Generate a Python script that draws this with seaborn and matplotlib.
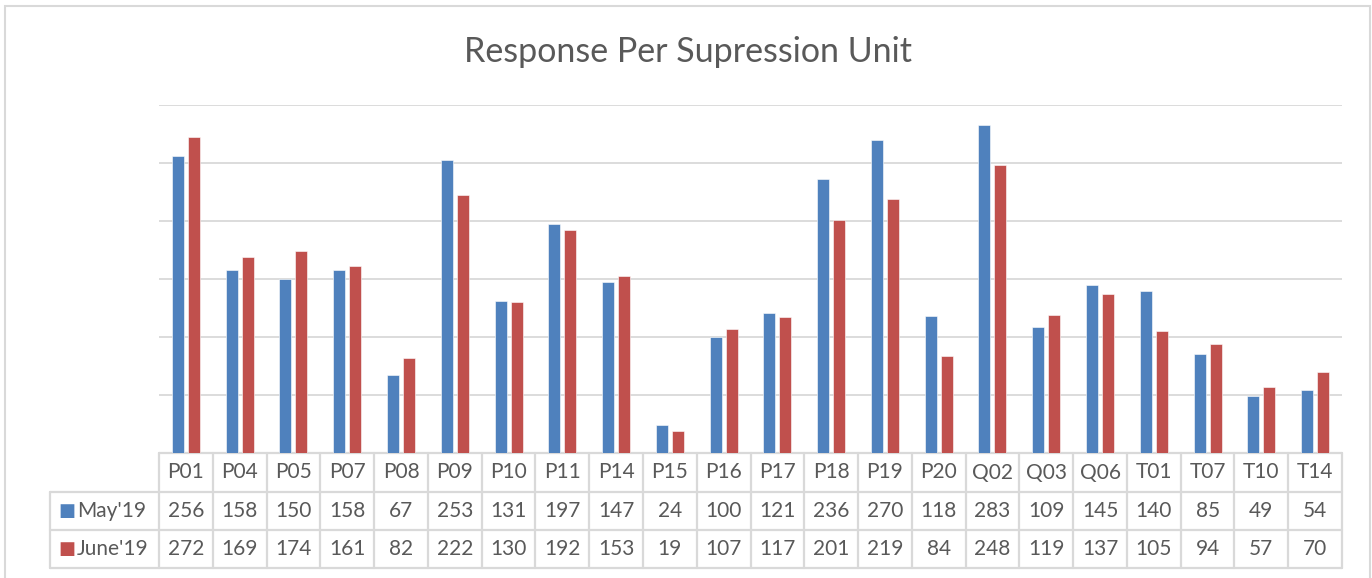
import pandas as pd
import matplotlib
matplotlib.use("Agg")
import matplotlib.pyplot as plt
from matplotlib.patches import Rectangle
import seaborn as sns

units = ["P01", "P04", "P05", "P07", "P08", "P09", "P10", "P11", "P14", "P15", "P16",
         "P17", "P18", "P19", "P20", "Q02", "Q03", "Q06", "T01", "T07", "T10", "T14"]
may_19 = [256, 158, 150, 158, 67, 253, 131, 197, 147, 24, 100,
          121, 236, 270, 118, 283, 109, 145, 140, 85, 49, 54]
june_19 = [272, 169, 174, 161, 82, 222, 130, 192, 153, 19, 107,
           117, 201, 219, 84, 248, 119, 137, 105, 94, 57, 70]
series = ["May'19", "June'19"]
colors = ["#4F81BD", "#C0504D"]

df = pd.DataFrame({
    "unit": units * 2,
    "month": [series[0]] * len(units) + [series[1]] * len(units),
    "value": may_19 + june_19,
})

sns.set_style("white")
plt.rcParams["font.family"] = ["Lato", "DejaVu Sans"]

W, H = 1372, 578
fig = plt.figure(figsize=(W / 100, H / 100), dpi=100)
# plot area in pixels: x 159..1342, y 105..453
ax = fig.add_axes([159 / W, 1 - 453 / H, (1342 - 159) / W, (453 - 105) / H])

sns.barplot(data=df, x="unit", y="value", hue="month", order=units, hue_order=series,
            palette=colors, saturation=1, width=0.595, gap=0.25, edgecolor="white",
            linewidth=0.4, ax=ax, legend=False, zorder=3)

ax.set_xlim(-0.5, len(units) - 0.5)
ax.set_ylim(0, 300)
ax.set_yticks(range(0, 301, 50))
ax.set_yticklabels([])
ax.set_xticks([])
ax.set_xlabel("")
ax.set_ylabel("")
ax.grid(axis="y", color="#D9D9D9", linewidth=1.3, zorder=0)
for s in ax.spines.values():
    s.set_visible(False)
ax.tick_params(left=False, bottom=False)

fig.text(688 / W, 1 - 52 / H, "Response Per Supression Unit", ha="center", va="center",
         fontsize=24.5, color="#595959")

# data table below the plot
tr = ax.get_xaxis_transform()
px = 348.0
y_hdr, y_may, y_jun = -39 / px, -77 / px, -115 / px
x_lab = -0.5 - (159 - 50) / ((1342 - 159) / len(units))
line_kw = dict(color="#D9D9D9", linewidth=1.6, transform=tr, clip_on=False, zorder=2)
n = len(units)
ax.plot([-0.5, n - 0.5], [0, 0], **line_kw)
for yy in (y_hdr, y_may, y_jun):
    ax.plot([x_lab, n - 0.5], [yy, yy], **line_kw)
ax.plot([x_lab, x_lab], [y_hdr, y_jun], **line_kw)
for i in range(n + 1):
    ax.plot([i - 0.5, i - 0.5], [0, y_jun], **line_kw)

txt_kw = dict(transform=tr, ha="center", va="center", fontsize=15, color="#595959", clip_on=False)
for i, u in enumerate(units):
    ax.text(i, y_hdr / 2, u, **txt_kw)
    ax.text(i, (y_hdr + y_may) / 2, str(may_19[i]), **txt_kw)
    ax.text(i, (y_may + y_jun) / 2, str(june_19[i]), **txt_kw)

for name, col, (ya, yb) in zip(series, colors, [(y_hdr, y_may), (y_may, y_jun)]):
    ym = (ya + yb) / 2
    ax.text(x_lab + 0.15, ym, "\u25A0", transform=tr, ha="left", va="center",
            fontsize=13, color=col, family="DejaVu Sans", clip_on=False)
    ax.text(x_lab + 0.5, ym, name, transform=tr, ha="left", va="center",
            fontsize=15, color="#595959", clip_on=False)

# chart border
fig.patches.append(Rectangle((4.5 / W, -0.02), (1370 - 4.5) / W, 1.02 - 6.5 / H,
                             transform=fig.transFigure, fill=False,
                             edgecolor="#D9D9D9", linewidth=1.5))

fig.savefig("out.png", dpi=100)
